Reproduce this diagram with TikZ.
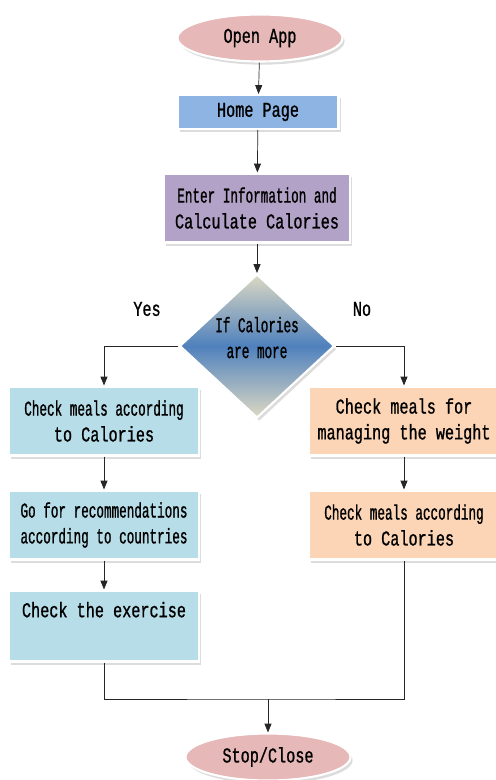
\documentclass[tikz,border=0pt]{standalone}
\usepackage{fontspec}
\usepackage{tikz}
\usetikzlibrary{arrows.meta,shapes.geometric,shadows}

\newfontfamily\chartfont[FakeStretch=0.72, FakeBold=0.9]{Liberation Mono}
\newfontfamily\tightfont[FakeStretch=0.6, FakeBold=0.9]{Liberation Mono}

\definecolor{AppPink}{RGB}{230,184,183}
\definecolor{PageBlue}{RGB}{141,180,226}
\definecolor{InfoPurple}{RGB}{179,162,199}
\definecolor{YesBlue}{RGB}{183,221,232}
\definecolor{NoPeach}{RGB}{251,213,181}
\definecolor{DecBlue}{RGB}{79,129,189}
\definecolor{DecTan}{RGB}{221,217,195}

\begin{document}
\begin{tikzpicture}[x=0.02cm, y=-0.02cm]
      \tikzstyle{every node}=[font=\chartfont\fontsize{12}{14.7}\selectfont, text=black]
      \tikzstyle{shaded}=[draw=white, line width=1.2pt,
         drop shadow={shadow xshift=1.2pt, shadow yshift=-1.8pt, fill=gray!55}]
      \tikzstyle{endpoint}=[shaded, ellipse, fill=AppPink, minimum width=3.3cm, minimum height=0.94cm]
      \tikzstyle{pagebox}=[shaded, rectangle, align=center, minimum height=1.38cm]
      \tikzstyle{flow}=[draw=black!85, thin, -{Triangle[length=5pt, width=4pt]}]

      \useasboundingbox (0, 0) rectangle (496, 780);

      \node[endpoint] (open) at (260, 38) {Open App};
      \node[pagebox, fill=PageBlue, minimum width=3.22cm, minimum height=0.68cm] (home) at (258, 112) {Home Page};
      \node[pagebox, fill=InfoPurple, minimum width=3.72cm] (info) at (257, 208)
         {{\tightfont Enter Information and}\\ Calculate Calories};

      %the decision
      \node[shaded, diamond, align=center, inner sep=0pt, minimum width=3.1cm, minimum height=2.88cm,
         top color=DecTan, bottom color=DecTan, middle color=DecBlue] (calories) at (257, 346)
         {{\tightfont If Calories}\\ {\tightfont are more}\\[-5pt]};
      \node (yes) at (147, 309) {Yes};
      \node (no) at (362, 309) {No};

      %left branch
      \node[pagebox, fill=YesBlue, minimum width=3.8cm] (lmeals) at (104, 421)
         {{\tightfont Check meals according}\\ to Calories};
      \node[pagebox, fill=YesBlue, minimum width=3.8cm] (recommend) at (104, 525)
         {{\tightfont Go for recommendations}\\ {\tightfont according to countries}};
      \node[pagebox, fill=YesBlue, minimum width=3.8cm, minimum height=1.42cm] (exercise) at (104, 626)
         {Check the exercise\\[4pt]};

      %right branch
      \node[pagebox, fill=NoPeach, minimum width=3.8cm] (weight) at (404, 421)
         {Check meals for\\ managing the weight};
      \node[pagebox, fill=NoPeach, minimum width=3.8cm] (rmeals) at (404, 525)
         {{\tightfont Check meals according}\\ to Calories};

      \node[endpoint] (stop) at (268, 757) {Stop/Close};
      \coordinate (merge) at (268, 699);

      \draw[flow] (open) -- (home);
      \draw[flow] (home) -- (info);
      \draw[flow] (info) -- (calories);
      \draw[flow] (calories.west) -| (lmeals.north);
      \draw[flow] (calories.east) -| (weight.north);
      \draw[flow] (lmeals) -- (recommend);
      \draw[flow] (recommend) -- (exercise);
      \draw[flow] (weight) -- (rmeals);
      \draw[draw=black!85, thin] (exercise.south) |- (merge) -| (rmeals.south);
      \draw[flow] (merge) -- (stop);

   \end{tikzpicture}
\end{document}
